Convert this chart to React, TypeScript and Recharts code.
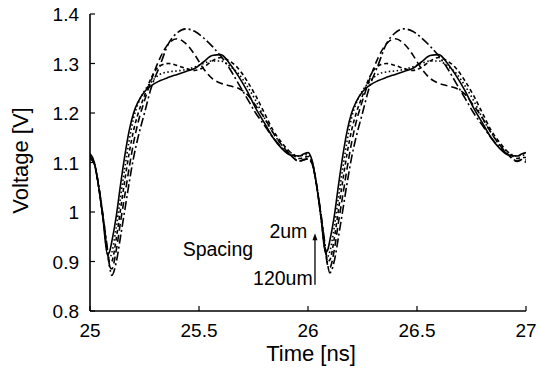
import React from 'react';
import { LineChart, Line, XAxis, YAxis, ReferenceLine, ReferenceDot } from 'recharts';

const TIME = [
  25.0, 25.02, 25.04, 25.06, 25.08, 25.09, 25.1, 25.12, 25.14, 25.16, 25.18, 25.2, 25.22, 25.25, 25.28, 25.32,
  25.36, 25.4, 25.44, 25.48, 25.52, 25.56, 25.6, 25.64, 25.68, 25.72, 25.76, 25.8, 25.84, 25.88, 25.92, 25.96, 25.98,
  26.0, 26.02, 26.04, 26.06, 26.08, 26.09, 26.1, 26.12, 26.14, 26.16, 26.18, 26.2, 26.22, 26.25, 26.28, 26.32,
  26.36, 26.4, 26.44, 26.48, 26.52, 26.56, 26.6, 26.64, 26.68, 26.72, 26.76, 26.8, 26.84, 26.88, 26.92, 26.96, 26.98,
  27.0,
];

// spacing 2um (solid)
const S_2UM = [
  1.118, 1.1, 1.05, 0.985, 0.914, 0.92, 0.94, 0.99, 1.055, 1.115, 1.165, 1.2, 1.222, 1.243, 1.255, 1.265,
  1.272, 1.278, 1.284, 1.29, 1.303, 1.316, 1.318, 1.3, 1.275, 1.245, 1.21, 1.18, 1.15, 1.128, 1.115, 1.113, 1.117,
  1.12, 1.102, 1.052, 0.988, 0.918, 0.923, 0.942, 0.99, 1.055, 1.115, 1.165, 1.2, 1.222, 1.243, 1.255, 1.265,
  1.272, 1.278, 1.284, 1.29, 1.303, 1.316, 1.318, 1.3, 1.275, 1.245, 1.21, 1.18, 1.15, 1.128, 1.115, 1.113, 1.117,
  1.12,
];

// dotted
const S_B = [
  1.115, 1.098, 1.05, 0.985, 0.915, 0.907, 0.918, 0.968, 1.03, 1.09, 1.145, 1.19, 1.218, 1.245, 1.262, 1.278,
  1.283, 1.285, 1.288, 1.293, 1.3, 1.305, 1.305, 1.295, 1.28, 1.255, 1.225, 1.19, 1.16, 1.135, 1.12, 1.113, 1.115,
  1.116, 1.1, 1.052, 0.988, 0.918, 0.91, 0.92, 0.968, 1.03, 1.09, 1.145, 1.19, 1.218, 1.245, 1.262, 1.278,
  1.283, 1.285, 1.288, 1.293, 1.3, 1.305, 1.305, 1.295, 1.28, 1.255, 1.225, 1.19, 1.16, 1.135, 1.12, 1.113, 1.115,
  1.115,
];

// short dashed
const S_C = [
  1.112, 1.097, 1.05, 0.985, 0.918, 0.897, 0.9, 0.945, 1.005, 1.065, 1.12, 1.165, 1.198, 1.235, 1.27, 1.295,
  1.3, 1.296, 1.29, 1.286, 1.292, 1.305, 1.312, 1.305, 1.29, 1.265, 1.235, 1.2, 1.165, 1.14, 1.12, 1.108, 1.11,
  1.112, 1.098, 1.052, 0.988, 0.92, 0.9, 0.903, 0.945, 1.005, 1.065, 1.12, 1.165, 1.198, 1.235, 1.27, 1.295,
  1.3, 1.296, 1.29, 1.286, 1.292, 1.305, 1.312, 1.305, 1.29, 1.265, 1.235, 1.2, 1.165, 1.14, 1.12, 1.108, 1.11,
  1.11,
];

// long dashed
const S_D = [
  1.11, 1.097, 1.052, 0.99, 0.92, 0.89, 0.885, 0.922, 0.98, 1.035, 1.09, 1.14, 1.18, 1.225, 1.265, 1.31,
  1.34, 1.35, 1.34, 1.318, 1.29, 1.27, 1.26, 1.255, 1.25, 1.238, 1.215, 1.19, 1.16, 1.135, 1.115, 1.102, 1.105,
  1.108, 1.096, 1.053, 0.992, 0.923, 0.893, 0.888, 0.922, 0.98, 1.035, 1.09, 1.14, 1.18, 1.225, 1.265, 1.31,
  1.34, 1.35, 1.34, 1.318, 1.29, 1.27, 1.26, 1.255, 1.25, 1.238, 1.215, 1.19, 1.16, 1.135, 1.115, 1.102, 1.105,
  1.1,
];

// spacing 120um (dash-dot)
const S_120UM = [
  1.108, 1.097, 1.053, 0.992, 0.925, 0.89, 0.872, 0.898, 0.95, 1.005, 1.06, 1.11, 1.15, 1.2, 1.25, 1.295,
  1.34, 1.362, 1.37, 1.365, 1.352, 1.335, 1.315, 1.29, 1.26, 1.23, 1.2, 1.175, 1.15, 1.13, 1.115, 1.103, 1.106,
  1.107, 1.096, 1.054, 0.994, 0.928, 0.894, 0.877, 0.9, 0.95, 1.005, 1.06, 1.11, 1.15, 1.2, 1.25, 1.295,
  1.34, 1.362, 1.37, 1.365, 1.352, 1.335, 1.315, 1.29, 1.26, 1.23, 1.2, 1.175, 1.15, 1.13, 1.115, 1.103, 1.106,
  1.105,
];

const X_TICKS = [25, 25.5, 26, 26.5, 27];
const Y_TICKS = [0.8, 0.9, 1.0, 1.1, 1.2, 1.3, 1.4];

const ANNOT_SPACING = { x: 25.425, y: 0.911, text: 'Spacing' };
const ANNOT_TOP = { x: 25.823, y: 0.9475, text: '2um' };
const ANNOT_BOTTOM = { x: 25.748, y: 0.8525, text: '120um' };
const ARROW = { x: 26.032, yFrom: 0.853, yTo: 0.957 };

const data = TIME.map((t, i) => ({
  t,
  a: S_2UM[i],
  b: S_B[i],
  c: S_C[i],
  d: S_D[i],
  e: S_120UM[i],
}));

const FONT = '"Liberation Sans", Arial, Helvetica, sans-serif';
const TICK_FS = 19;

const BottomTick = (p: any) => (
  <g>
    <line x1={p.x} y1={p.y} x2={p.x} y2={p.y - 5} stroke="#000" strokeWidth={1.2} />
    <text x={p.x} y={p.y + 26} textAnchor="middle" fontFamily={FONT} fontSize={TICK_FS} fill="#000">
      {String(p.payload.value)}
    </text>
  </g>
);
const TopTick = (p: any) => (
  <line x1={p.x} y1={p.y} x2={p.x} y2={p.y + 5} stroke="#000" strokeWidth={1.2} />
);
const LeftTick = (p: any) => (
  <g>
    <line x1={p.x} y1={p.y} x2={p.x + 5} y2={p.y} stroke="#000" strokeWidth={1.2} />
    <text x={p.x - 11} y={p.y + 7} textAnchor="end" fontFamily={FONT} fontSize={TICK_FS} fill="#000">
      {String(Math.round(p.payload.value * 10) / 10)}
    </text>
  </g>
);
const RightTick = (p: any) => (
  <line x1={p.x} y1={p.y} x2={p.x - 5} y2={p.y} stroke="#000" strokeWidth={1.2} />
);

const textShape = (txt: string) => (p: any) => (
  <text x={p.cx} y={p.cy} textAnchor="start" fontFamily={FONT} fontSize={19.5} fill="#000">
    {txt}
  </text>
);

const ArrowShape = (p: any) => {
  const x = p.x1;
  const top = Math.min(p.y1, p.y2);
  const bot = Math.max(p.y1, p.y2);
  return (
    <g>
      <line x1={x} y1={bot} x2={x} y2={top + 5} stroke="#000" strokeWidth={1.3} />
      <polygon points={`${x},${top} ${x - 2.5},${top + 7} ${x + 2.5},${top + 7}`} fill="#000" />
    </g>
  );
};

const XLabel = (p: any) => {
  const vb = p.viewBox;
  return (
    <text x={vb.x + vb.width / 2 + 3} y={vb.y + 50} textAnchor="middle" fontFamily={FONT} fontSize={22} fill="#000">
      Time [ns]
    </text>
  );
};
const YLabel = () => {
  const cx = 27.5;
  const cy = 160.5;
  return (
    <text x={cx} y={cy} transform={`rotate(-90 ${cx} ${cy})`} textAnchor="middle" fontFamily={FONT} fontSize={22} fill="#000">
      Voltage [V]
    </text>
  );
};

const lineCommon = {
  type: 'monotone' as const,
  stroke: '#000',
  strokeWidth: 1.6,
  dot: false,
  isAnimationActive: false,
};

export default function App() {
  return (
    <div style={{ position: 'absolute', left: 0, top: 0 }}>
      <LineChart width={539} height={370} data={data} margin={{ top: 14, right: 13, left: 0, bottom: 0 }}>
        <XAxis
          dataKey="t"
          type="number"
          domain={[25, 27]}
          ticks={X_TICKS}
          height={59}
          tickSize={0}
          tickMargin={0}
          tickLine={false}
          tick={<BottomTick />}
          axisLine={{ stroke: '#000', strokeWidth: 1.6 }}
          allowDataOverflow
          label={<XLabel />}
        />
        <XAxis
          xAxisId="top"
          orientation="top"
          dataKey="t"
          type="number"
          domain={[25, 27]}
          ticks={X_TICKS}
          height={0}
          tickSize={0}
          tickMargin={0}
          tickLine={false}
          tick={<TopTick />}
          axisLine={{ stroke: '#000', strokeWidth: 1.6 }}
          allowDataOverflow
        />
        <YAxis
          type="number"
          domain={[0.8, 1.4]}
          ticks={Y_TICKS}
          width={90}
          tickSize={0}
          tickMargin={0}
          tickLine={false}
          tick={<LeftTick />}
          axisLine={{ stroke: '#000', strokeWidth: 1.6 }}
          allowDataOverflow
          label={<YLabel />}
        />
        <YAxis
          yAxisId="right"
          orientation="right"
          type="number"
          domain={[0.8, 1.4]}
          ticks={Y_TICKS}
          width={0}
          tickSize={0}
          tickMargin={0}
          tickLine={false}
          tick={<RightTick />}
          axisLine={{ stroke: '#000', strokeWidth: 1.6 }}
          allowDataOverflow
        />
        <Line {...lineCommon} dataKey="e" strokeDasharray="9 3 2 3" />
        <Line {...lineCommon} dataKey="d" strokeDasharray="7 4" />
        <Line {...lineCommon} dataKey="c" strokeDasharray="4 3" />
        <Line {...lineCommon} dataKey="b" strokeDasharray="1.5 2.5" />
        <Line {...lineCommon} dataKey="a" />
        <ReferenceDot x={ANNOT_SPACING.x} y={ANNOT_SPACING.y} r={0} shape={textShape(ANNOT_SPACING.text)} />
        <ReferenceDot x={ANNOT_TOP.x} y={ANNOT_TOP.y} r={0} shape={textShape(ANNOT_TOP.text)} />
        <ReferenceDot x={ANNOT_BOTTOM.x} y={ANNOT_BOTTOM.y} r={0} shape={textShape(ANNOT_BOTTOM.text)} />
        <ReferenceLine
          segment={[
            { x: ARROW.x, y: ARROW.yFrom },
            { x: ARROW.x, y: ARROW.yTo },
          ]}
          shape={ArrowShape}
        />
      </LineChart>
    </div>
  );
}
